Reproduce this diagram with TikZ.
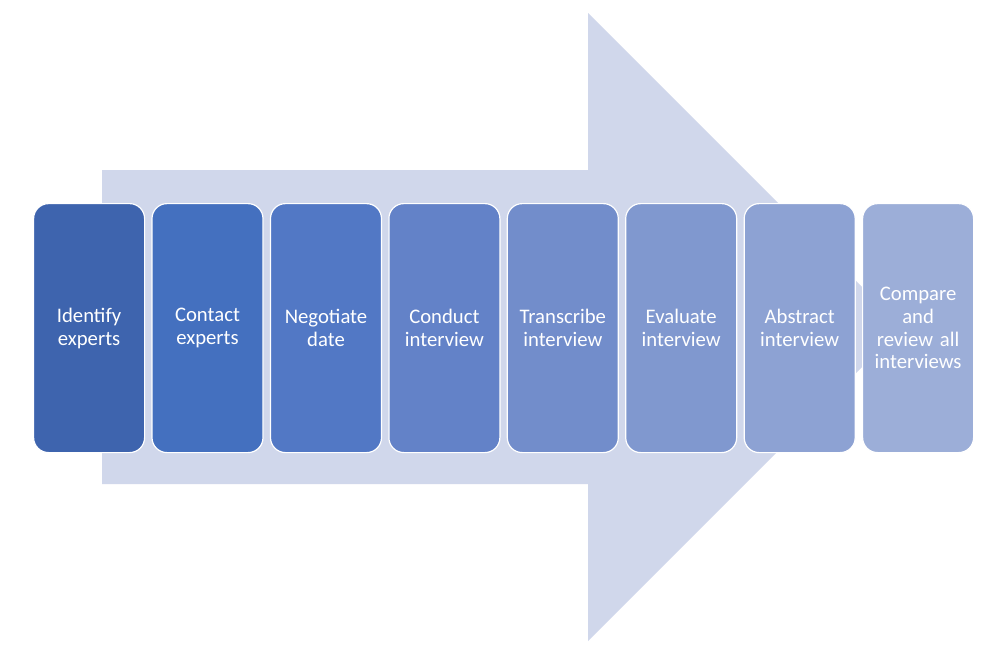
\documentclass[tikz,border=0pt]{standalone}
\usepackage{fontspec}
\setmainfont{Carlito}
\definecolor{arrowbg}{HTML}{D0D7EB}
\definecolor{cA}{HTML}{3E64AE}
\definecolor{cB}{HTML}{4470BF}
\definecolor{cC}{HTML}{5278C5}
\definecolor{cD}{HTML}{6382C8}
\definecolor{cE}{HTML}{728DCB}
\definecolor{cF}{HTML}{8098CF}
\definecolor{cG}{HTML}{8DA2D3}
\definecolor{cH}{HTML}{9CAED8}
\tikzset{
  stepbox/.style={draw=white, line width=1.2pt, rounded corners=15pt,
    minimum width=111pt, minimum height=249pt, inner sep=2pt,
    text width=105pt, align=center, text=white,
    font=\fontsize{20.7}{22.8}\selectfont, anchor=north west},
}
\begin{document}
\begin{tikzpicture}[x=1pt,y=-1pt]
\useasboundingbox (0,0) rectangle (1004,653);
\fill[white] (0,0) rectangle (1004,653);
\fill[arrowbg] (102,170) -- (588,170) -- (588,13) -- (902,327) -- (588,641) -- (588,484) -- (102,484) -- cycle;
\node[stepbox, fill=cA] (s1) at (33,203) {Identify\\experts};
\node[stepbox, fill=cB] (s2) at (151.4,203) {Contact\\experts};
\node[stepbox, fill=cC] (s3) at (269.9,203) {Negotiate\\date};
\node[stepbox, fill=cD] (s4) at (388.3,203) {Conduct\\interview};
\node[stepbox, fill=cE] (s5) at (506.7,203) {Transcribe\\interview};
\node[stepbox, fill=cF] (s6) at (625.1,203) {Evaluate\\interview};
\node[stepbox, fill=cG] (s7) at (743.6,203) {Abstract\\interview};
\node[stepbox, fill=cH] (s8) at (862,203) {Compare\\and\\review all\\interviews};
\end{tikzpicture}
\end{document}
